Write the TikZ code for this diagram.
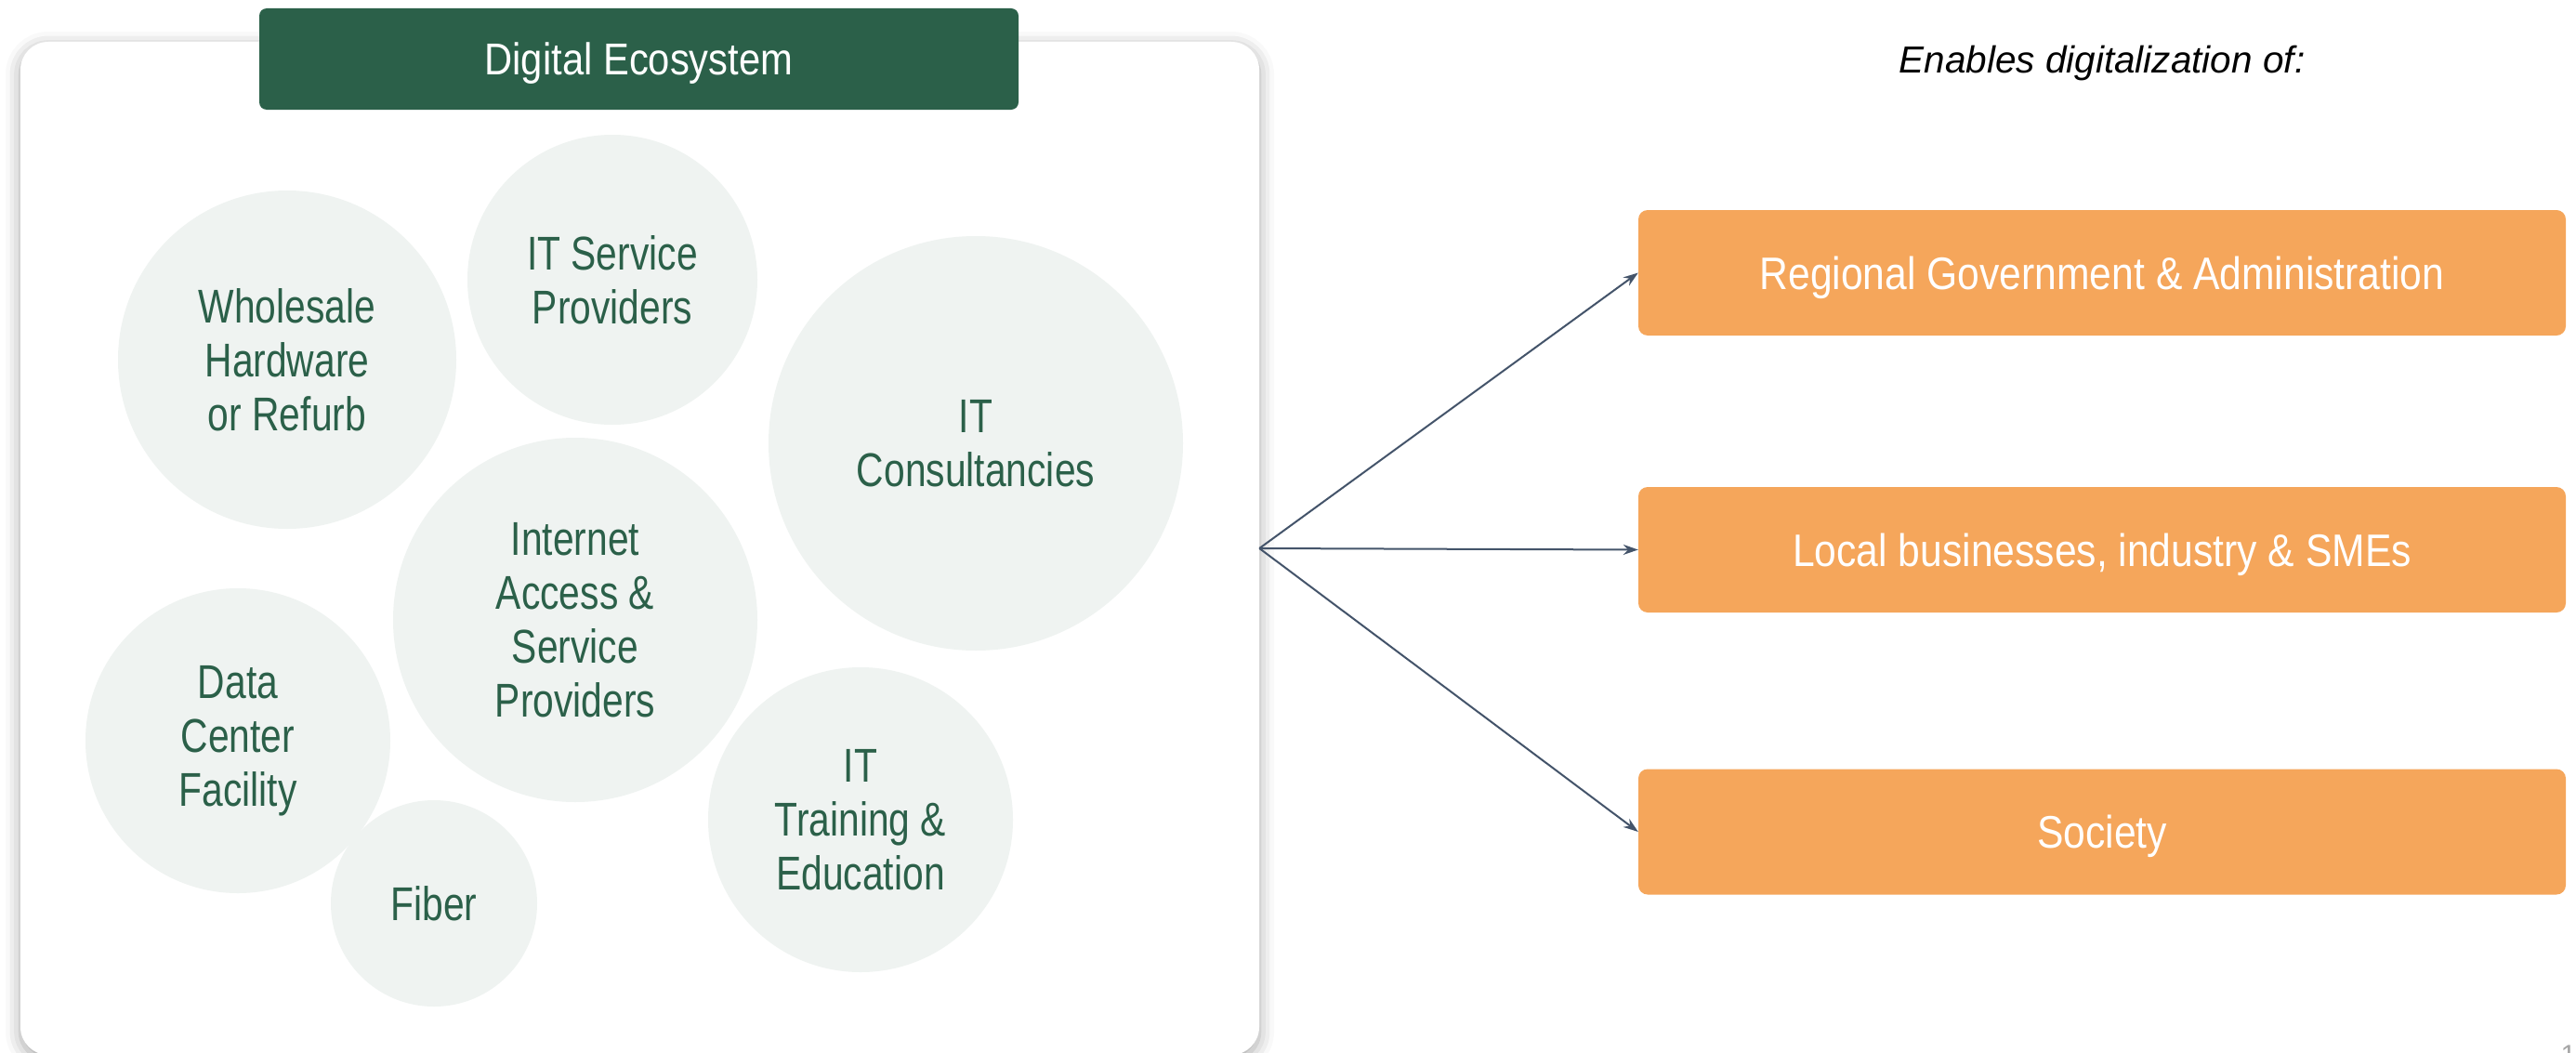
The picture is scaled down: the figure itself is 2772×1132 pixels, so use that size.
\documentclass[tikz,border=0pt]{standalone}
\usepackage{fontspec}
\setmainfont{Liberation Sans}
\newfontfamily\condfont[FakeStretch=0.8]{Liberation Sans}
\newfontfamily\lightfont[FakeStretch=0.87]{Liberation Sans}
\usetikzlibrary{arrows.meta,shadows.blur}
\definecolor{ecogreen}{HTML}{2B6049}
\definecolor{bubblefill}{HTML}{EFF3F1}
\definecolor{sectorfill}{HTML}{F5A65B}
\definecolor{linkgray}{HTML}{44546A}
\tikzset{
  bubble/.style={circle,fill=bubblefill,inner sep=0pt,align=center,text=ecogreen,
    font=\condfont\fontsize{51}{58}\selectfont},
  sectorbox/.style={rectangle,rounded corners=10pt,fill=sectorfill,minimum width=998pt,
    minimum height=135pt,text depth=0pt,text=white,font=\lightfont\fontsize{49}{58}\selectfont},
  enables/.style={-{Stealth[length=16pt,width=11pt]},line width=2pt,draw=linkgray}
}
\begin{document}
\begin{tikzpicture}[x=1pt,y=-1pt]
\useasboundingbox (0,0) rectangle (2772,1132);
% ecosystem panel
\node [rectangle,rounded corners=30pt,fill=white,minimum width=1333pt,minimum height=1090pt,inner sep=0pt,
  blur shadow={shadow xshift=0pt,shadow yshift=-5pt,shadow blur radius=16pt,shadow opacity=35}] (panel) at (688.5,590) {};
\node [rectangle,rounded corners=8pt,fill=ecogreen,minimum width=817pt,minimum height=109pt,text depth=0pt,
  text=white,font=\lightfont\fontsize{48}{58}\selectfont] (title) at (687.5,63.5) {Digital Ecosystem};
% actors
\node [bubble,minimum size=364pt] (wholesale) at (309,387) {Wholesale\\Hardware\\or Refurb};
\node [bubble,minimum size=312pt] (itservice) at (659,301) {IT Service\\Providers};
\node [bubble,minimum size=446pt] (consult) at (1050,477) {IT\\Consultancies};
\node [bubble,minimum size=392pt] (internet) at (619,667) {Internet\\Access \&\\Service\\Providers};
\node [bubble,minimum size=328pt] (datacenter) at (256,797) {Data\\Center\\Facility};
\node [bubble,minimum size=222pt] (fiber) at (467,972) {Fiber};
\node [bubble,minimum size=328pt] (training) at (926,882) {IT\\Training \&\\Education};
% sectors
\node [font=\itshape\fontsize{40.5}{46}\selectfont] (enablestext) at (2262,68) {Enables digitalization of:};
\node [sectorbox] (gov) at (2262,293.5) {Regional Government \& Administration};
\node [sectorbox] (business) at (2262,591.5) {Local businesses, industry \& SMEs};
\node [sectorbox] (society) at (2262,895) {Society};
\draw [enables] (panel.east) -- (gov.west);
\draw [enables] (panel.east) -- (business.west);
\draw [enables] (panel.east) -- (society.west);
\node [anchor=north,inner sep=0pt,text=gray!70,font=\fontsize{30}{36}\selectfont] (pagenum) at (2764,1125) {1};
\end{tikzpicture}
\end{document}
